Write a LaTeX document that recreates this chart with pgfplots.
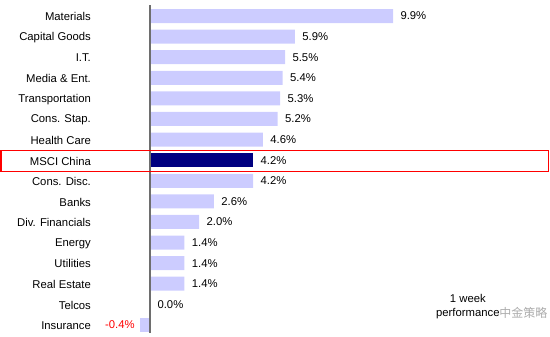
\documentclass[border=0pt]{standalone}
\usepackage{pgfplots}
\pgfplotsset{compat=1.18}
\usepackage{fontspec}
\setmainfont{Liberation Sans}
\newfontfamily\cjk{Noto Sans CJK SC}
\definecolor{barlight}{RGB}{204,204,255}
\definecolor{barnavy}{RGB}{0,0,128}
\definecolor{zeroline}{RGB}{110,110,110}
\pgfplotsset{
  vlab/.style={
    nodes near coords={\pgfmathprintnumber[fixed,fixed zerofill,precision=1,assume math mode=true]{\pgfplotspointmeta}\%},
    point meta=x,
    nodes near coords style={font=\fontsize{11.3}{13}\selectfont, anchor=west, xshift=4pt},
  },
}
\begin{document}
\begin{tikzpicture}
\begin{axis}[
  scale only axis, width=550pt, height=337pt,
  at={(0,0)}, anchor=south west,
  xmin=-6.110, xmax=16.293,
  y dir=reverse, ymin=-0.777, ymax=15.58,
  axis line style={draw=none},
  major tick length=0pt,
  xtick=\empty,
  ytick={0,...,15},
  yticklabels={Materials,Capital Goods,I.T.,Media \& Ent.,Transportation,Cons. Stap.,Health Care,MSCI China,Cons. Disc.,Banks,Div. Financials,Energy,Utilities,Real Estate,Telcos,Insurance},
  yticklabel style={anchor=east, inner sep=0pt, xshift=91pt, yshift=-0.8pt, font=\fontsize{11.3}{13}\selectfont},
  clip=false,
]
\addplot[xbar, bar shift=0pt, bar width=14pt, draw=none, fill=barlight, vlab] coordinates {
 (9.9,0) (5.9,1) (5.5,2) (5.4,3) (5.3,4) (5.2,5) (4.6,6)
 (4.2,8) (2.6,9) (2.0,10) (1.4,11) (1.4,12) (1.4,13) (0.0,14)};
\addplot[xbar, bar shift=0pt, bar width=14pt, draw=none, fill=barnavy, vlab] coordinates {(4.2,7)};
\addplot[xbar, bar shift=0pt, bar width=14pt, draw=none, fill=barlight, vlab,
  nodes near coords style={anchor=east, xshift=-6pt, text=red}] coordinates {(-0.4,15)};
\addplot[draw=zeroline, line width=1.5pt, mark=none] coordinates {(0,-0.534) (0,15.39)};
\draw[red, line width=1.3pt] (axis cs:-6.07,6.54) rectangle (axis cs:16.25,7.56);
\node[align=center, font=\fontsize{11.3}{14.5}\selectfont, inner sep=0pt] at (axis cs:12.95,14.1) {1 week\\performance};
\node[font=\cjk\fontsize{12}{12}\selectfont, text=gray!65, inner sep=0pt, anchor=east] at (axis cs:16.2,14.4) {中金策略};
\end{axis}
\end{tikzpicture}
\end{document}
